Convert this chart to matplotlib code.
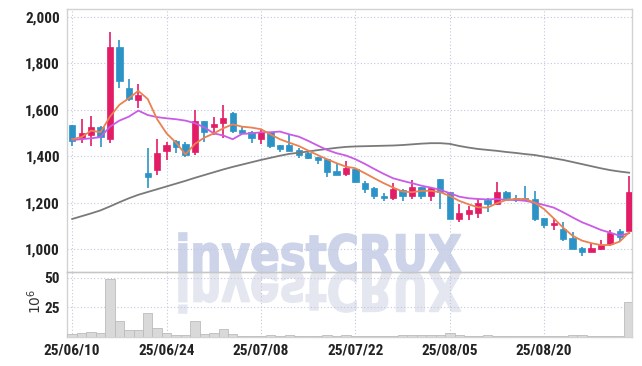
import matplotlib
matplotlib.use("Agg")
import matplotlib.pyplot as plt
from matplotlib import font_manager
from matplotlib.textpath import TextPath
from matplotlib.patches import PathPatch, Rectangle
from matplotlib.font_manager import FontProperties
from matplotlib.transforms import Affine2D

# daily candles, index 0 = 25/06/10
opens = [1535, 1481, 1494, 1528, 1474, 1871, 1693, 1644, 1330, 1342,
         1425, 1468, 1454, 1421, 1553, 1528, 1543, 1586, 1514, 1507,
         1474, 1504, 1449, 1449, 1428, 1414, 1397, 1389, 1338, 1325,
         1346, 1287, 1266, 1231, 1223, 1256, 1231, 1267, 1231, 1303,
         1246, 1131, 1153, 1156, 1213, 1194, 1246, 1223, 1220, 1217,
         1134, 1105, 1088, 1051, 1008, 991, 1002, 1024, 1081, 1081]
highs = [1535, 1561, 1574, 1530, 1934, 1901, 1732, 1710, 1435, 1474,
         1464, 1470, 1464, 1600, 1553, 1571, 1620, 1590, 1532, 1510,
         1514, 1506, 1450, 1492, 1435, 1423, 1399, 1390, 1368, 1382,
         1349, 1295, 1269, 1242, 1287, 1258, 1299, 1268, 1267, 1303,
         1246, 1194, 1185, 1217, 1220, 1289, 1251, 1234, 1273, 1252,
         1136, 1134, 1120, 1074, 1010, 1027, 1041, 1084, 1088, 1317]
lows = [1446, 1457, 1445, 1440, 1457, 1693, 1640, 1607, 1263, 1320,
        1385, 1416, 1397, 1406, 1464, 1492, 1478, 1500, 1500, 1459,
        1454, 1435, 1421, 1425, 1392, 1387, 1368, 1311, 1320, 1317,
        1285, 1242, 1216, 1209, 1213, 1209, 1216, 1216, 1209, 1173,
        1131, 1117, 1127, 1134, 1160, 1190, 1216, 1203, 1210, 1124,
        1094, 1084, 1038, 1000, 972, 988, 998, 1016, 1035, 1074]
closes = [1468, 1502, 1527, 1485, 1871, 1723, 1646, 1665, 1313, 1415,
          1447, 1442, 1406, 1553, 1507, 1540, 1567, 1511, 1502, 1478,
          1504, 1445, 1432, 1425, 1404, 1395, 1385, 1335, 1320, 1349,
          1292, 1260, 1231, 1223, 1260, 1231, 1267, 1231, 1263, 1246,
          1131, 1158, 1170, 1201, 1194, 1246, 1220, 1213, 1213, 1131,
          1105, 1113, 1045, 1002, 991, 1008, 1019, 1072, 1052, 1246]

ma_short = [1474, 1483, 1511, 1504, 1571, 1622, 1650, 1682, 1647, 1560,
            1499, 1459, 1409, 1454, 1481, 1499, 1521, 1538, 1528, 1524,
            1517, 1495, 1474, 1459, 1445, 1425, 1406, 1388, 1371, 1356,
            1349, 1328, 1306, 1285, 1266, 1249, 1246, 1252, 1252, 1246,
            1230, 1209, 1194, 1181, 1180, 1199, 1213, 1217, 1217, 1201,
            1173, 1134, 1094, 1059, 1038, 1027, 1019, 1019, 1034, 1074]
ma_mid = [1471, 1474, 1478, 1483, 1528, 1554, 1571, 1597, 1578, 1569,
          1564, 1560, 1554, 1543, 1525, 1499, 1490, 1474, 1497, 1499,
          1504, 1504, 1507, 1495, 1485, 1467, 1447, 1428, 1414, 1404,
          1388, 1368, 1346, 1325, 1306, 1295, 1285, 1274, 1266, 1256,
          1242, 1227, 1220, 1217, 1215, 1217, 1213, 1213, 1209, 1201,
          1191, 1180, 1160, 1138, 1117, 1101, 1084, 1072, 1059, 1070]
ma_long = [1131, 1143, 1155, 1168, 1185, 1203, 1220, 1235, 1247, 1259,
           1271, 1283, 1295, 1308, 1320, 1332, 1344, 1355, 1365, 1375,
           1385, 1394, 1403, 1411, 1416, 1421, 1427, 1432, 1437, 1441,
           1443, 1444, 1445, 1446, 1447, 1449, 1452, 1455, 1457, 1457,
           1454, 1445, 1438, 1432, 1428, 1424, 1419, 1415, 1410, 1406,
           1399, 1392, 1385, 1376, 1367, 1358, 1349, 1341, 1335, 1330]

volume = [2.3, 3.4, 4.3, 3.4, 49.5, 13.4, 5.7, 5.7, 20.2, 7.4,
          3.4, 1.4, 1.4, 13.4, 2.3, 3.4, 6.5, 2.3, 0.6, 0.6,
          0.6, 1.4, 0.6, 1.4, 0.6, 0.6, 1.0, 1.8, 1.2, 1.4,
          0.6, 0.6, 0.6, 0.6, 1.0, 1.4, 1.4, 1.4, 1.4, 1.8,
          3.0, 1.4, 1.2, 1.0, 1.4, 0.8, 0.6, 0.6, 0.6, 1.0,
          0.6, 0.6, 1.2, 2.0, 1.4, 0.6, 0.8, 1.2, 0.6, 29.6]

date_pos = [0, 10, 20, 30, 40, 50]
date_labels = ['25/06/10', '25/06/24', '25/07/08', '25/07/22', '25/08/05', '25/08/20']
price_ticks = [1000, 1200, 1400, 1600, 1800, 2000]
vol_ticks = [25, 50]

up_col = '#e31c66'
down_col = '#2b93c6'
grid_col = '#c3c7dc'
spine_col = '#d2d2d2'

avail = {f.name for f in font_manager.fontManager.ttflist}
tick_font = 'DejaVu Sans'
tick_size = 9.5
for name, size in [('Liberation Sans Narrow', 11), ('Roboto Condensed', 11),
                   ('DejaVu Sans Condensed', 10.5), ('Roboto', 10)]:
    if name in avail:
        tick_font, tick_size = name, size
        break

fig = plt.figure(figsize=(6.42, 3.66), dpi=100)
ax = fig.add_axes([67/642, (366-272)/366, 565/642, 263/366])
ax2 = fig.add_axes([67/642, (366-337)/366, 565/642, 65/366], sharex=ax)
for a in (ax, ax2):
    a.set_facecolor('none')
    for s in a.spines.values():
        s.set_color(spine_col)
        s.set_linewidth(1.0)
    a.grid(True, linestyle=(0, (1, 2)), color=grid_col, linewidth=0.8)
    a.set_axisbelow(True)
    a.tick_params(length=0, labelsize=tick_size, colors='#222222', pad=5)

# candles
w = 0.66
for i in range(len(opens)):
    o, h, l, c = opens[i], highs[i], lows[i], closes[i]
    col = up_col if c >= o else down_col
    ax.vlines(i, l, h, color=col, linewidth=1.2, zorder=3)
    lo = min(o, c)
    ht = max(abs(c - o), 3)
    ax.add_patch(Rectangle((i - w/2, lo), w, ht, facecolor=col, edgecolor=col,
                           linewidth=0.5, zorder=4))

xs = list(range(len(closes)))
ax.plot(xs, ma_long, color='#7a7a7a', linewidth=1.3, zorder=5)
ax.plot(xs, ma_mid, color='#c95be6', linewidth=1.3, zorder=5)
ax.plot(xs, ma_short, color='#ec8150', linewidth=1.3, zorder=6)

ax.set_xlim(-0.55, 59.3)
ax.set_ylim(903, 2034)
ax.set_yticks(price_ticks)
ax.set_yticklabels([f'{v:,}' for v in price_ticks], fontfamily=tick_font, fontweight='bold')
ax.set_xticks(date_pos)
ax.tick_params(axis='x', labelbottom=False)

ax2.bar(xs, volume, width=1.0, color='#d9d9d9', edgecolor='#bcbcbc', linewidth=0.6, zorder=3)
ax2.set_ylim(0, 55)
ax2.set_yticks(vol_ticks)
ax2.set_yticklabels([str(v) for v in vol_ticks], fontfamily=tick_font, fontweight='bold')
ax2.set_xticks(date_pos)
ax2.set_xticklabels(date_labels, fontfamily=tick_font, fontweight='bold')
ax2.set_ylabel(r'$10^6$', fontsize=10, color='#333333')
ax2.yaxis.set_label_coords(-23/565, 0.55)
ax2.spines['top'].set_color('#c6c6c6')

# watermark with reflection
fp = FontProperties(family='DejaVu Sans', weight='bold')
tp = TextPath((0, 0), 'investCRUX', size=100, prop=fp)
ext = tp.get_extents()
sx = 282 / ext.width
tr_up = Affine2D().translate(-ext.x0, 0).scale(sx, 39 / ext.y1).translate(179, 94)
tr_dn = Affine2D().translate(-ext.x0, 0).scale(sx, -41 / ext.y1).translate(179, 94)
fig.add_artist(PathPatch(tp, transform=tr_dn, facecolor='#e4e7f0', edgecolor='#e4e7f0',
                         linewidth=1.2, zorder=-1))
fig.add_artist(PathPatch(tp, transform=tr_up, facecolor='#cdd4e9', edgecolor='#cdd4e9',
                         linewidth=1.2, zorder=-1))

fig.savefig('out.png', dpi=100)
